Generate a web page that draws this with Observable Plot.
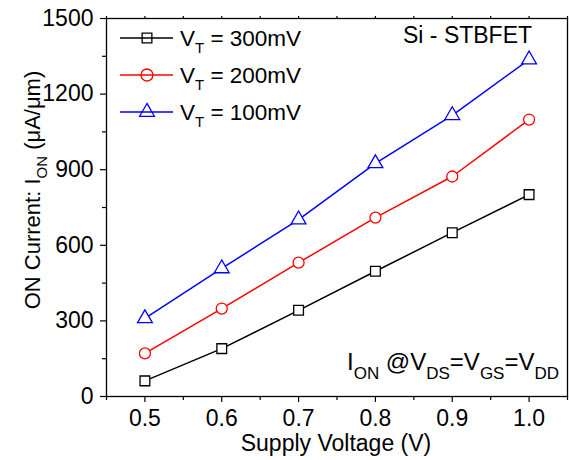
<!DOCTYPE html>
<html><head><meta charset="utf-8">
<script src="https://cdn.jsdelivr.net/npm/d3@7"></script>
<script src="https://cdn.jsdelivr.net/npm/@observablehq/plot@0.6"></script>
<style>
body{margin:0;background:#fff}
svg{font-family:"Liberation Sans",Arial,sans-serif}
</style>
</head><body><div id="chart"></div>
<script>
const voltages = [0.5, 0.6, 0.7, 0.8, 0.9, 1.0];
const ion300 = [62, 190, 342, 497, 650, 801];
const ion200 = [171, 349, 531, 710, 873, 1099];
const ion100 = [310, 508, 702, 925, 1116, 1337];
const seriesKeys = ["300mV", "200mV", "100mV"];
const seriesColors = ["#000000", "#ff0000", "#0000ff"];
const seriesSymbols = ["square", "circle", "triangle"];
const xMajorTicks = [0.5, 0.6, 0.7, 0.8, 0.9, 1.0];
const xMinorTicks = [0.45, 0.55, 0.65, 0.75, 0.85, 0.95, 1.05];
const yMajorTicks = [0, 300, 600, 900, 1200, 1500];
const yMinorTicks = [150, 450, 750, 1050, 1350];

const seriesArrays = [ion300, ion200, ion100];
const data = [];
seriesArrays.forEach((arr, i) => arr.forEach((v, j) => data.push({series: seriesKeys[i], x: voltages[j], y: v})));

const FONT = '"Liberation Sans",Arial,sans-serif';
const chart = Plot.plot({
  width: 569, height: 460,
  marginLeft: 106, marginRight: 2, marginTop: 18, marginBottom: 64,
  style: {fontFamily: FONT, fontSize: "23px", background: "white", color: "black", overflow: "visible"},
  x: {domain: [0.45, 1.05]},
  y: {domain: [0, 1500]},
  color: {domain: seriesKeys, range: seriesColors},
  symbol: {domain: seriesKeys, range: seriesSymbols},
  marks: [
    Plot.axisX({ticks: xMajorTicks, tickSize: 6, tickPadding: 7, tickFormat: d3.format(".1f"), label: null, strokeWidth: 1.2}),
    Plot.axisX({ticks: xMinorTicks, tickSize: 4, tickFormat: () => "", label: null, strokeWidth: 1.2}),
    Plot.axisX({anchor: "top", ticks: xMajorTicks.concat(xMinorTicks), tickSize: 3, tickFormat: () => "", label: null, strokeWidth: 1.2}),
    Plot.axisY({ticks: yMajorTicks, tickSize: 6, tickPadding: 7, tickFormat: d3.format("d"), label: null, strokeWidth: 1.2}),
    Plot.axisY({ticks: yMinorTicks, tickSize: 4, tickFormat: () => "", label: null, strokeWidth: 1.2}),
    Plot.frame({stroke: "black", strokeWidth: 1.3}),
    Plot.line(data, {x: "x", y: "y", stroke: "series", z: "series", strokeWidth: 1.5}),
    Plot.dot(data, {x: "x", y: "y", stroke: "series", symbol: "series", fill: "white", r: 5.5, strokeWidth: 1.3})
  ]
});
document.getElementById("chart").appendChild(chart);

const svg = d3.select(chart);
const g = svg.append("g").attr("font-family", FONT).attr("fill", "black").attr("text-anchor", "start");

// Legend
const d3sym = {square: d3.symbolSquare, circle: d3.symbolCircle, triangle: d3.symbolTriangle};
seriesKeys.forEach((k, i) => {
  const y = 38 + 37 * i;
  g.append("line").attr("x1", 120).attr("x2", 173).attr("y1", y).attr("y2", y)
    .attr("stroke", seriesColors[i]).attr("stroke-width", 1.5);
  const r = seriesSymbols[i] === "circle" ? 6 : 5.5;
  g.append("path").attr("d", d3.symbol(d3sym[seriesSymbols[i]], Math.PI * r * r)())
    .attr("transform", `translate(147,${y})`).attr("fill", "none")
    .attr("stroke", seriesColors[i]).attr("stroke-width", 1.3);
  const t = g.append("text").attr("x", 180).attr("y", y + 8).attr("font-size", 22.5);
  t.append("tspan").text("V");
  t.append("tspan").attr("font-size", 15).attr("dy", 7).text("T");
  t.append("tspan").attr("dy", -7).text(" = " + k);
});

// Annotation top right
g.append("text").attr("x", 403).attr("y", 43).attr("font-size", 23).text("Si - STBFET");

// Bottom annotation
const a = g.append("text").attr("x", 347).attr("y", 370).attr("font-size", 24);
a.append("tspan").text("I");
a.append("tspan").attr("font-size", 17).attr("dy", 9).text("ON");
a.append("tspan").attr("dy", -9).text(" @V");
a.append("tspan").attr("font-size", 17).attr("dy", 9).text("DS");
a.append("tspan").attr("dy", -9).text("=V");
a.append("tspan").attr("font-size", 17).attr("dy", 9).text("GS");
a.append("tspan").attr("dy", -9).text("=V");
a.append("tspan").attr("font-size", 17).attr("dy", 9).text("DD");

// Axis labels
g.append("text").attr("x", 336).attr("y", 451).attr("text-anchor", "middle").attr("font-size", 23)
  .text("Supply Voltage (V)");
const yl = g.append("text").attr("transform", "translate(40,190) rotate(-90)")
  .attr("text-anchor", "middle").attr("font-size", 22);
yl.append("tspan").text("ON Current: I");
yl.append("tspan").attr("font-size", 15).attr("dy", 7).text("ON");
yl.append("tspan").attr("dy", -7).text(" (\u03BCA/\u03BCm)");
</script>
</body></html>
